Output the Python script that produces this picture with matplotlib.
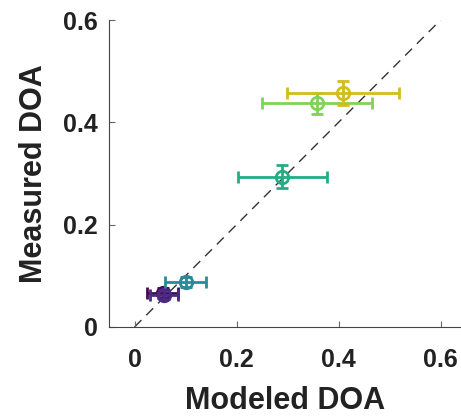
import matplotlib.pyplot as plt
import numpy as np

# data
modeled = [0.055, 0.058, 0.100, 0.290, 0.357, 0.408]
measured = [0.066, 0.063, 0.088, 0.294, 0.437, 0.457]
modeled_err = [0.030, 0.028, 0.040, 0.088, 0.108, 0.110]
measured_err = [0.010, 0.009, 0.009, 0.023, 0.021, 0.024]
colors = ['#440a5a', '#4b2a84', '#2b8a98', '#24ad84', '#7fd356', '#d3bd1e']

x_ticks = [0, 0.2, 0.4, 0.6]
y_ticks = [0, 0.2, 0.4, 0.6]
tick_labels = ['0', '0.2', '0.4', '0.6']

plt.rcParams['font.family'] = ['Liberation Sans', 'DejaVu Sans']
plt.rcParams['font.weight'] = 'bold'

fig = plt.figure(figsize=(4.61, 4.18), dpi=100)
ax = fig.add_axes([109/461, 91/418, 352/461, 307/418])

ax.plot([0, 0.6], [0, 0.6], '--', color='#333333', lw=1.0, dashes=(7, 5), zorder=1)

for i in range(len(modeled)):
    ax.errorbar(modeled[i], measured[i], xerr=modeled_err[i], yerr=measured_err[i],
                fmt='o', color=colors[i], mfc='none', mec=colors[i], ms=9, mew=2,
                elinewidth=2, capsize=4.5, capthick=2, zorder=2 + i)

ax.set_xlim(-0.05, 0.64)
ax.set_ylim(0, 0.6)
ax.set_xticks(x_ticks)
ax.set_xticklabels(tick_labels)
ax.set_yticks(y_ticks)
ax.set_yticklabels(tick_labels)
ax.spines['top'].set_visible(False)
ax.spines['right'].set_visible(False)
for s in ['left', 'bottom']:
    ax.spines[s].set_color('#444444')
    ax.spines[s].set_linewidth(0.8)
ax.tick_params(axis='x', direction='in', length=4, color='#666666', labelsize=18,
               labelcolor='#222222', pad=15)
ax.tick_params(axis='y', direction='in', length=4, color='#666666', labelsize=18,
               labelcolor='#222222', pad=8)

ax.set_xlabel('Modeled DOA', fontsize=22, fontweight='bold', color='#222222', labelpad=10)
ax.set_ylabel('Measured DOA', fontsize=22, fontweight='bold', color='#222222', labelpad=10)

plt.savefig('out.png', dpi=100)
